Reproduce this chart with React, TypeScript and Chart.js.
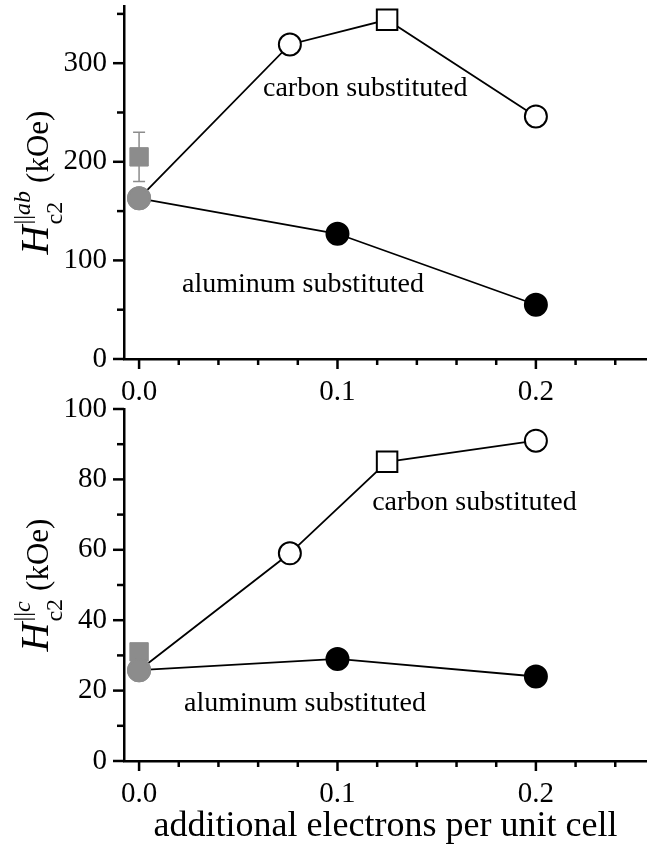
import React, { useEffect, useRef } from 'react';
import { Chart, registerables } from 'chart.js';

Chart.register(...registerables);

const FONT = '"Liberation Serif", "Times New Roman", serif';
const GRAY = '#8c8c8c';

// x: additional electrons per unit cell
const carbonX = [0, 0.076, 0.125, 0.2];
const carbonAb = [163, 319, 344, 246];
const carbonC = [25.8, 59, 85, 91];
const carbonStyles = ['circle', 'circle', 'rect', 'circle'];

const aluminumX = [0, 0.1, 0.2];
const aluminumAb = [163, 127, 55];
const aluminumC = [25.8, 29, 24];

const refX = [0];
const refAb = [205];
const refAbErr = [25];
const refC = [31];

const xTickStep = 0.02;
const xMajor = 0.1;

const topLabels = [
  { text: 'carbon substituted', x: 0.114, y: 274 },
  { text: 'aluminum substituted', x: 0.0826, y: 75 },
];
const bottomLabels = [
  { text: 'carbon substituted', x: 0.169, y: 73.3 },
  { text: 'aluminum substituted', x: 0.0836, y: 16.4 },
];

const isMult = (v: number, m: number) => Math.abs(v / m - Math.round(v / m)) < 1e-6;

const decorPlugin = {
  id: 'decor',
  beforeDatasetsDraw(chart: any, _args: any, opts: any) {
    const ctx = chart.ctx;
    const xs = chart.scales.x;
    const ys = chart.scales.y;
    ctx.save();
    ctx.strokeStyle = GRAY;
    ctx.lineWidth = 1.5;
    (opts.errors || []).forEach((e: any) => {
      const px = xs.getPixelForValue(e.x);
      const p1 = ys.getPixelForValue(e.y - e.err);
      const p2 = ys.getPixelForValue(e.y + e.err);
      ctx.beginPath();
      ctx.moveTo(px, p1);
      ctx.lineTo(px, p2);
      ctx.moveTo(px - 6, p1);
      ctx.lineTo(px + 6, p1);
      ctx.moveTo(px - 6, p2);
      ctx.lineTo(px + 6, p2);
      ctx.stroke();
    });
    ctx.restore();
  },
  afterDraw(chart: any, _args: any, opts: any) {
    const ctx = chart.ctx;
    const { left, bottom, top } = chart.chartArea;
    const xs = chart.scales.x;
    const ys = chart.scales.y;
    ctx.save();
    ctx.strokeStyle = '#000';
    ctx.lineWidth = 2.5;
    xs.ticks.forEach((t: any) => {
      const p = xs.getPixelForValue(t.value);
      const len = isMult(t.value, xMajor) ? 10 : 6;
      ctx.beginPath();
      ctx.moveTo(p, bottom);
      ctx.lineTo(p, bottom + len);
      ctx.stroke();
    });
    ys.ticks.forEach((t: any) => {
      const p = ys.getPixelForValue(t.value);
      const len = isMult(t.value, opts.yMajor) ? 11 : 7;
      ctx.beginPath();
      ctx.moveTo(left, p);
      ctx.lineTo(left - len, p);
      ctx.stroke();
    });
    // annotations
    ctx.fillStyle = '#000';
    ctx.font = `28px ${FONT}`;
    ctx.textAlign = 'center';
    ctx.textBaseline = 'middle';
    (opts.labels || []).forEach((l: any) => {
      ctx.fillText(l.text, xs.getPixelForValue(l.x), ys.getPixelForValue(l.y));
    });
    // y title
    const cy = (top + bottom) / 2;
    ctx.translate(opts.titleX, cy);
    ctx.rotate(-Math.PI / 2);
    ctx.textAlign = 'left';
    ctx.textBaseline = 'alphabetic';
    const fH = `italic 40px ${FONT}`;
    const fSub = `24px ${FONT}`;
    const fSupI = `italic 24px ${FONT}`;
    const fK = `31px ${FONT}`;
    ctx.font = fH;
    const wH = ctx.measureText('H').width;
    ctx.font = fSub;
    const wSub = ctx.measureText('c2').width;
    const wBar = ctx.measureText('||').width;
    ctx.font = fSupI;
    const wSupT = ctx.measureText(opts.sup).width;
    const wSup = wBar + wSupT;
    ctx.font = fK;
    const wK = ctx.measureText('(kOe)').width;
    const gap = 9;
    const total = wH + Math.max(wSub, wSup) + gap + wK;
    let u = -total / 2;
    ctx.font = fH;
    ctx.fillText('H', u, 0);
    u += wH;
    ctx.font = fSub;
    ctx.fillText('c2', u + 1, 14);
    ctx.fillText('||', u + 1, -18);
    ctx.font = fSupI;
    ctx.fillText(opts.sup, u + 1 + wBar, -18);
    u += Math.max(wSub, wSup) + gap;
    ctx.font = fK;
    ctx.fillText('(kOe)', u, 0);
    ctx.restore();
  },
};

function makeDatasets(cY: number[], aY: number[], rY: number[]) {
  return [
    {
      label: 'reference',
      data: refX.map((x, i) => ({ x, y: rY[i] })),
      showLine: false,
      pointStyle: 'rect',
      pointRadius: 13,
      pointBackgroundColor: GRAY,
      pointBorderColor: GRAY,
      pointBorderWidth: 1,
      clip: false,
      order: 3,
    },
    {
      label: 'carbon substituted',
      data: carbonX.map((x, i) => ({ x, y: cY[i] })),
      showLine: true,
      borderColor: '#000',
      borderWidth: 1.8,
      pointStyle: carbonStyles,
      pointRadius: carbonStyles.map((s) => (s === 'rect' ? 14.5 : 11)),
      pointBackgroundColor: carbonX.map((_, i) => (i === 0 ? GRAY : '#fff')),
      pointBorderColor: carbonX.map((_, i) => (i === 0 ? GRAY : '#000')),
      pointBorderWidth: 2,
      clip: false,
      order: 2,
    },
    {
      label: 'aluminum substituted',
      data: aluminumX.map((x, i) => ({ x, y: aY[i] })),
      showLine: true,
      borderColor: '#000',
      borderWidth: 1.8,
      pointStyle: 'circle',
      pointRadius: 11,
      pointBackgroundColor: aluminumX.map((_, i) => (i === 0 ? GRAY : '#000')),
      pointBorderColor: aluminumX.map((_, i) => (i === 0 ? GRAY : '#000')),
      pointBorderWidth: 2,
      clip: false,
      order: 1,
    },
  ];
}

function makeOptions(cfg: any) {
  return {
    animation: false,
    responsive: false,
    layout: { autoPadding: false, padding: { top: cfg.padTop, left: 0, right: 0, bottom: 0 } },
    plugins: {
      legend: { display: false },
      tooltip: { enabled: false },
      decor: {
        yMajor: cfg.yMajor,
        labels: cfg.labels,
        errors: cfg.errors,
        sup: cfg.sup,
        titleX: 48,
      },
    },
    scales: {
      x: {
        type: 'linear',
        min: -0.0076,
        max: 0.256,
        afterFit: (s: any) => {
          s.height = cfg.xHeight;
          s.paddingLeft = 0;
          s.paddingRight = 0;
        },
        grid: { display: true, drawOnChartArea: false, drawTicks: false },
        border: { display: true, color: '#000', width: 2.5 },
        ticks: {
          stepSize: xTickStep,
          includeBounds: false,
          autoSkip: false,
          maxRotation: 0,
          padding: 16,
          color: '#000',
          font: { family: FONT, size: 29 },
          callback: (v: number) => (isMult(v, xMajor) ? v.toFixed(1) : ''),
        },
        title: cfg.xTitle
          ? {
              display: true,
              text: 'additional electrons per unit cell',
              color: '#000',
              font: { family: FONT, size: 36 },
              padding: { top: 0, bottom: 4 },
            }
          : { display: false },
      },
      y: {
        type: 'linear',
        min: 0,
        max: cfg.yMax,
        afterFit: (s: any) => {
          s.width = 124;
          s.paddingTop = 0;
          s.paddingBottom = 0;
        },
        grid: { display: true, drawOnChartArea: false, drawTicks: false },
        border: { display: true, color: '#000', width: 2.5 },
        ticks: {
          stepSize: cfg.yMinor,
          includeBounds: false,
          autoSkip: false,
          padding: 17,
          color: '#000',
          font: { family: FONT, size: 29 },
          callback: (v: number) => (isMult(v, cfg.yMajor) ? String(Math.round(v)) : ''),
        },
      },
    },
  };
}

function Panel(props: { cfg: any; datasets: any[]; top: number; height: number }) {
  const ref = useRef<HTMLCanvasElement>(null);
  useEffect(() => {
    if (!ref.current) return;
    const chart = new Chart(ref.current, {
      type: 'scatter',
      data: { datasets: props.datasets },
      options: makeOptions(props.cfg) as any,
      plugins: [decorPlugin as any],
    });
    return () => chart.destroy();
  }, []);
  return (
    <canvas
      ref={ref}
      width={647}
      height={props.height}
      style={{ position: 'absolute', left: 0, top: props.top, width: 647, height: props.height }}
    />
  );
}

export default function App() {
  const topCfg = {
    padTop: 6,
    xHeight: 61,
    yMax: 358,
    yMinor: 50,
    yMajor: 100,
    labels: topLabels,
    errors: refX.map((x, i) => ({ x, y: refAb[i], err: refAbErr[i] })),
    sup: 'ab',
    xTitle: false,
  };
  const bottomCfg = {
    padTop: 19,
    xHeight: 91,
    yMax: 100,
    yMinor: 10,
    yMajor: 20,
    labels: bottomLabels,
    errors: [],
    sup: 'c',
    xTitle: true,
  };
  return (
    <div style={{ position: 'absolute', left: 0, top: 0, width: 647, height: 852, background: '#fff' }}>
      <Panel cfg={topCfg} datasets={makeDatasets(carbonAb, aluminumAb, refAb)} top={0} height={420} />
      <Panel cfg={bottomCfg} datasets={makeDatasets(carbonC, aluminumC, refC)} top={390} height={462} />
    </div>
  );
}
